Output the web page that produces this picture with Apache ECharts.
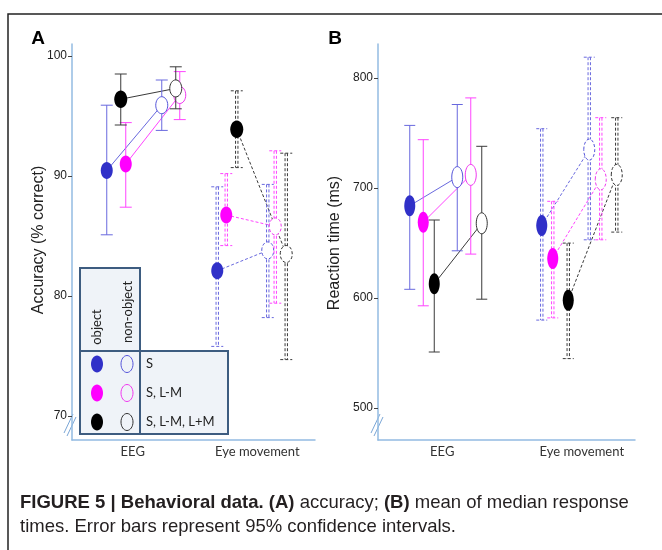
<!DOCTYPE html>
<html>
<head>
<meta charset="utf-8">
<script src="https://cdn.jsdelivr.net/npm/echarts@6/dist/echarts.min.js"></script>
<style>
html, body { margin: 0; padding: 0; background: #fff; }
#main { width: 662px; height: 550px; }
</style>
</head>
<body>
<div id="main"></div>
<script>
var categories = ['EEG', 'Eye movement'];
var conditions = ['S', 'S, L-M', 'S, L-M, L+M'];
var accTicks = [70, 80, 90, 100];
var rtTicks = [500, 600, 700, 800];

// each row: [mean, lower CI, upper CI] for EEG, Eye movement
// (A) accuracy, % correct
var accObjS    = [[90.45, 85.1, 95.9], [82.1, 75.8, 89.1]];
var accObjSLM  = [[91.0, 87.4, 94.45], [86.75, 84.2, 90.2]];
var accObjAll  = [[96.4, 94.25, 98.5], [93.9, 90.7, 97.1]];
var accNonS    = [[95.9, 93.8, 98.0], [83.8, 78.2, 89.3]];
var accNonSLM  = [[96.75, 94.7, 98.7], [85.8, 79.4, 92.1]];
var accNonAll  = [[97.3, 95.6, 99.1], [83.5, 74.7, 91.9]];
// (B) reaction time, ms
var rtObjS     = [[684, 608, 757], [666, 580, 754]];
var rtObjSLM   = [[669, 593, 744], [636, 582, 688]];
var rtObjAll   = [[613, 551, 671], [598, 545, 650]];
var rtNonS     = [[710, 643, 776], [735, 653, 819]];
var rtNonSLM   = [[712, 640, 782], [708, 653, 764]];
var rtNonAll   = [[668, 599, 738], [712, 660, 764]];

var myChart = echarts.init(document.getElementById('main'));

var blue = { fill: '#3030c8', line: '#6868de', open: '#5555da' };
var pink = { fill: '#ff00ff', line: '#ff44ff', open: '#f038f0' };
var dark = { fill: '#000000', line: '#3a3a3a', open: '#333333' };

// horizontal pixel offsets from the category centre (EEG, Eye movement)
var dxA = { objS: [-26, -37], objSLM: [-7, -28], objAll: [-12, -17.5], nonS: [29, 13.5], nonSLM: [47, 21], nonAll: [43, 32] };
var dxB = { objS: [-32.5, -29], objSLM: [-19, -18], objAll: [-8, -2.5], nonS: [15, 18.5], nonSLM: [28.5, 30], nonAll: [39.5, 46] };

function ciSeries(axis, rows, dx, col, open, rx, ry, cap) {
    return {
        type: 'custom',
        xAxisIndex: axis,
        yAxisIndex: axis,
        z: 3,
        data: rows.map(function (r, i) { return [i, r[0], r[1], r[2]]; }),
        renderItem: function (params, api) {
            var cat = api.value(0);
            var p = api.coord([cat, api.value(1)]);
            var lo = api.coord([cat, api.value(2)]);
            var hi = api.coord([cat, api.value(3)]);
            var x = p[0] + dx[cat];
            var dash = cat === 1 ? [3, 2] : null;
            var ls = { stroke: col.line, lineWidth: 1, lineDash: dash, fill: null };
            var kids = [];
            var offs = cat === 1 ? [-1.2, 1.2] : [0];
            offs.forEach(function (o) {
                kids.push({ type: 'line', shape: { x1: x + o, y1: hi[1], x2: x + o, y2: lo[1] }, style: ls });
            });
            kids.push({ type: 'line', shape: { x1: x - cap, y1: hi[1], x2: x + cap, y2: hi[1] }, style: ls });
            kids.push({ type: 'line', shape: { x1: x - cap, y1: lo[1], x2: x + cap, y2: lo[1] }, style: ls });
            kids.push({
                type: 'ellipse',
                shape: { cx: x, cy: p[1], rx: rx, ry: ry },
                style: open ? { fill: '#fff', stroke: col.open, lineWidth: 1, lineDash: dash } : { fill: col.fill }
            });
            return { type: 'group', children: kids };
        }
    };
}

function linkSeries(axis, objRows, nonRows, dxObj, dxNon, col) {
    return {
        type: 'custom',
        xAxisIndex: axis,
        yAxisIndex: axis,
        z: 2,
        data: objRows.map(function (r, i) { return [i, r[0], nonRows[i][0]]; }),
        renderItem: function (params, api) {
            var cat = api.value(0);
            var a = api.coord([cat, api.value(1)]);
            var b = api.coord([cat, api.value(2)]);
            return {
                type: 'line',
                shape: { x1: a[0] + dxObj[cat], y1: a[1], x2: b[0] + dxNon[cat], y2: b[1] },
                style: { stroke: col.line, lineWidth: 1, lineDash: cat === 1 ? [3, 2] : null }
            };
        }
    };
}

function yAxisFor(grid, min, max, ticks) {
    return {
        type: 'value', gridIndex: grid, min: min, max: max,
        axisLine: { show: true, lineStyle: { color: '#93bbe2', width: 1.5 } },
        axisTick: { show: true, length: 4, customValues: ticks, lineStyle: { color: '#444' } },
        axisLabel: { customValues: ticks, margin: 5, fontSize: 12, color: '#222', fontFamily: 'Liberation Sans' },
        splitLine: { show: false }
    };
}

function xAxisFor(grid, shift) {
    return {
        type: 'category', gridIndex: grid, data: categories,
        axisLine: { show: true, lineStyle: { color: '#93bbe2', width: 1.5 } },
        axisTick: { show: false },
        axisLabel: {
            interval: 0, hideOverlap: false,
            margin: 5, fontSize: 13, color: '#333', fontFamily: 'Lato',
            formatter: function (v, i) { return i === 1 ? '{s|' + v + '}' : v; },
            rich: { s: { fontSize: 13, color: '#333', fontFamily: 'Lato', padding: [0, 0, 0, shift] } }
        }
    };
}

function breakMark(x) {
    var st = { stroke: '#7aa6d6', lineWidth: 1 };
    return [
        { type: 'line', shape: { x1: x, y1: 433, x2: x + 9, y2: 414 }, style: st },
        { type: 'line', shape: { x1: x + 3, y1: 436, x2: x + 12, y2: 417 }, style: st }
    ];
}

var boxStyle = { fill: '#eff3f8', stroke: '#3d5c80', lineWidth: 2 };
var legendRowsY = [364, 393, 422];
var legendCols = [blue, pink, dark];
var legendItems = [];
conditions.forEach(function (name, i) {
    legendItems.push({ type: 'ellipse', shape: { cx: 97, cy: legendRowsY[i], rx: 6, ry: 8.5 }, style: { fill: legendCols[i].fill }, z: 12 });
    legendItems.push({ type: 'ellipse', shape: { cx: 127, cy: legendRowsY[i], rx: 6, ry: 8.5 }, style: { fill: null, stroke: legendCols[i].open, lineWidth: 1 }, z: 12 });
    legendItems.push({ type: 'text', x: 146, y: legendRowsY[i], style: { text: name, fontSize: 13, fontFamily: 'Lato', fill: '#222', verticalAlign: 'middle' }, z: 12 });
});

option = {
    animation: false,
    backgroundColor: '#fff',
    grid: [
        { left: 72, top: 44, width: 243, height: 396 },
        { left: 378, top: 44, width: 257, height: 396 }
    ],
    xAxis: [xAxisFor(0, 6), xAxisFor(1, 22)],
    yAxis: [yAxisFor(0, 68, 101, accTicks), yAxisFor(1, 471, 831, rtTicks)],
    series: [
        linkSeries(0, accObjS, accNonS, dxA.objS, dxA.nonS, blue),
        linkSeries(0, accObjSLM, accNonSLM, dxA.objSLM, dxA.nonSLM, pink),
        linkSeries(0, accObjAll, accNonAll, dxA.objAll, dxA.nonAll, dark),
        ciSeries(0, accObjS, dxA.objS, blue, false, 6, 8.5, 6),
        ciSeries(0, accObjSLM, dxA.objSLM, pink, false, 6, 8.5, 6),
        ciSeries(0, accObjAll, dxA.objAll, dark, false, 6.5, 8.8, 6),
        ciSeries(0, accNonS, dxA.nonS, blue, true, 6, 8.5, 6),
        ciSeries(0, accNonSLM, dxA.nonSLM, pink, true, 6, 8.5, 6),
        ciSeries(0, accNonAll, dxA.nonAll, dark, true, 6, 8.5, 6),
        linkSeries(1, rtObjS, rtNonS, dxB.objS, dxB.nonS, blue),
        linkSeries(1, rtObjSLM, rtNonSLM, dxB.objSLM, dxB.nonSLM, pink),
        linkSeries(1, rtObjAll, rtNonAll, dxB.objAll, dxB.nonAll, dark),
        ciSeries(1, rtObjS, dxB.objS, blue, false, 5.5, 10.5, 5.5),
        ciSeries(1, rtObjSLM, dxB.objSLM, pink, false, 5.5, 10.5, 5.5),
        ciSeries(1, rtObjAll, dxB.objAll, dark, false, 5.5, 10.5, 5.5),
        ciSeries(1, rtNonS, dxB.nonS, blue, true, 5.5, 10.5, 5.5),
        ciSeries(1, rtNonSLM, dxB.nonSLM, pink, true, 5.5, 10.5, 5.5),
        ciSeries(1, rtNonAll, dxB.nonAll, dark, true, 5.5, 10.5, 5.5)
    ],
    graphic: [
        { type: 'rect', shape: { x: 8, y: 14, width: 700, height: 600 }, style: { fill: null, stroke: '#222', lineWidth: 1.5 }, z: 1 },
        { type: 'text', x: 38, y: 39, style: { text: 'A', fontSize: 19, fontWeight: 'bold', fontFamily: 'Liberation Sans', fill: '#000', align: 'center', verticalAlign: 'middle' } },
        { type: 'text', x: 335, y: 39, style: { text: 'B', fontSize: 19, fontWeight: 'bold', fontFamily: 'Liberation Sans', fill: '#000', align: 'center', verticalAlign: 'middle' } },
        { type: 'text', x: 39, y: 240, rotation: Math.PI / 2, style: { text: 'Accuracy (% correct)', fontSize: 16, fontFamily: 'Liberation Sans', fill: '#222', align: 'center', verticalAlign: 'middle' } },
        { type: 'text', x: 335, y: 243, rotation: Math.PI / 2, style: { text: 'Reaction time (ms)', fontSize: 16, fontFamily: 'Liberation Sans', fill: '#222', align: 'center', verticalAlign: 'middle' } }
    ].concat(breakMark(64), breakMark(371), [
        { type: 'rect', shape: { x: 80, y: 268, width: 60, height: 83 }, style: boxStyle, z: 10 },
        { type: 'rect', shape: { x: 80, y: 351, width: 148, height: 83 }, style: boxStyle, z: 10 },
        { type: 'line', shape: { x1: 140, y1: 351, x2: 140, y2: 434 }, style: { stroke: '#3d5c80', lineWidth: 2 }, z: 11 },
        { type: 'text', x: 97, y: 327, rotation: Math.PI / 2, style: { text: 'object', fontSize: 13, fontFamily: 'Lato', fill: '#222', align: 'center', verticalAlign: 'middle' }, z: 12 },
        { type: 'text', x: 128, y: 312, rotation: Math.PI / 2, style: { text: 'non-object', fontSize: 13, fontFamily: 'Lato', fill: '#222', align: 'center', verticalAlign: 'middle' }, z: 12 },
        {
            type: 'text', left: 20, top: 491,
            style: {
                text: '{b|FIGURE 5 | Behavioral data. (A)} accuracy; {b|(B)} mean of median response\ntimes. Error bars represent 95% confidence intervals.',
                fontSize: 18.5, lineHeight: 24, fontFamily: 'Liberation Sans', fill: '#231f20',
                rich: { b: { fontSize: 18.5, lineHeight: 24, fontWeight: 'bold', fontFamily: 'Liberation Sans', fill: '#231f20' } }
            }
        }
    ], legendItems)
};
myChart.setOption(option);
</script>
</body>
</html>
